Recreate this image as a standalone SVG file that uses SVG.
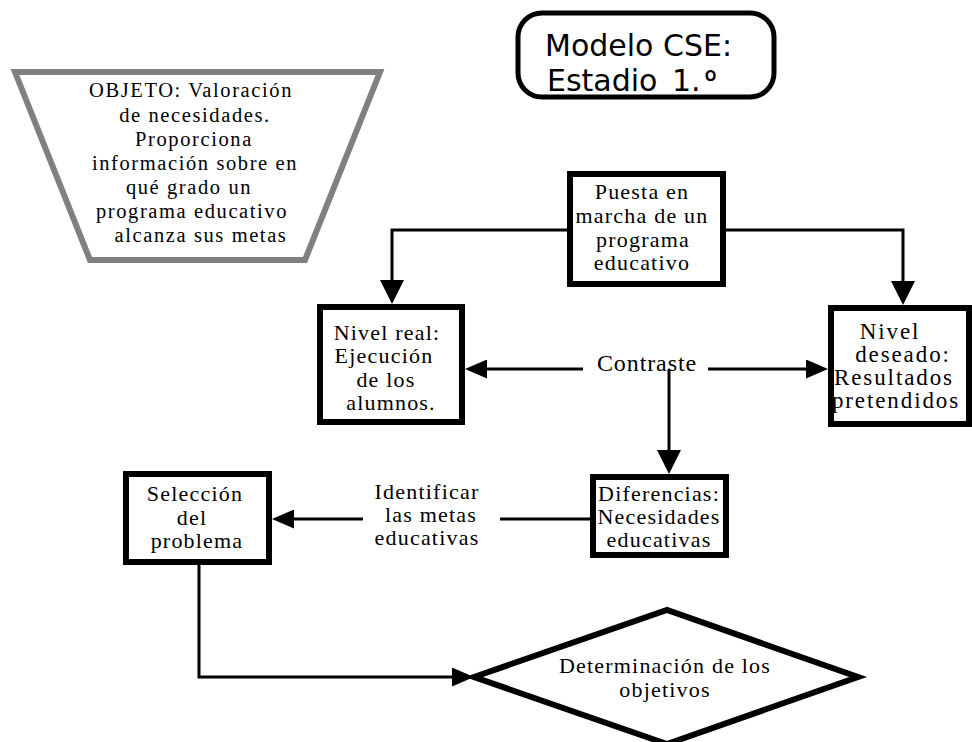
<svg xmlns="http://www.w3.org/2000/svg" width="972" height="742" viewBox="0 0 972 742">
  <style>
    .box { fill: #ffffff; stroke: #000000; stroke-width: 6; }
    .wire { fill: none; stroke: #000000; stroke-width: 3; }
    .t { font-family: "Liberation Serif", "Times New Roman", serif; font-size: 22px; letter-spacing: 1.2px; fill: #000000; text-anchor: middle; }
    .obj { font-size: 20.5px; letter-spacing: 1.6px; }
    .big { font-size: 24px; letter-spacing: 0.9px; }
    .wide { font-size: 23px; letter-spacing: 1.9px; }
    .title { font-family: "DejaVu Sans", Verdana, sans-serif; font-size: 30px; fill: #000000; }
  </style>
  <defs>
    <!-- filled arrowheads; tip sits 6px past the end of the line -->
    <marker id="arrow-v" markerUnits="userSpaceOnUse" viewBox="0 0 24 24" markerWidth="24" markerHeight="24" refX="18" refY="12" orient="auto">
      <path d="M0,0 L24,12 L0,24 Z" fill="#000000"/>
    </marker>
    <marker id="arrow-h" markerUnits="userSpaceOnUse" viewBox="0 0 22 19" markerWidth="22" markerHeight="19" refX="16" refY="9.5" orient="auto">
      <path d="M0,0 L22,9.5 L0,19 Z" fill="#000000"/>
    </marker>
  </defs>

  <rect width="972" height="742" fill="#ffffff"/>

  <!-- connectors -->
  <g id="connectors">
    <path class="wire" d="M567,230 H392 V298" marker-end="url(#arrow-v)"/>
    <path class="wire" d="M726,230 H903 V299" marker-end="url(#arrow-v)"/>
    <path class="wire" d="M583,369 H471" marker-end="url(#arrow-h)"/>
    <path class="wire" d="M708,369 H822" marker-end="url(#arrow-h)"/>
    <path class="wire" d="M669,369 V468" marker-end="url(#arrow-v)"/>
    <path class="wire" d="M590,519 H500"/>
    <path class="wire" d="M363,519 H278" marker-end="url(#arrow-h)"/>
    <path class="wire" d="M199,565 V677 H468" marker-end="url(#arrow-h)"/>
  </g>

  <!-- title -->
  <g id="title">
    <rect x="518" y="13" width="256" height="84" rx="24" ry="24" fill="#ffffff" stroke="#000000" stroke-width="5"/>
    <text class="title" x="545" y="56">Modelo CSE:</text>
    <text class="title" x="547" y="91">Estadio <tspan dx="5">1.</tspan><tspan dx="3" font-family="Roboto, 'DejaVu Sans', sans-serif">º</tspan></text>
  </g>

  <!-- purpose note -->
  <g id="objeto">
    <polygon points="15,72 380,72 305,260 90,260" fill="#ffffff" stroke="#808080" stroke-width="6"/>
    <text class="t obj" x="191" y="97">OBJETO: Valoración</text>
    <text class="t obj" x="195" y="121.5">de necesidades.</text>
    <text class="t obj" x="194" y="145.5">Proporciona</text>
    <text class="t obj" x="195" y="170">información sobre en</text>
    <text class="t obj" x="189" y="194">qué grado un</text>
    <text class="t obj" x="192" y="218">programa educativo</text>
    <text class="t obj" x="201" y="242">alcanza sus metas</text>
  </g>

  <g id="puesta">
    <rect class="box" x="570" y="174" width="153" height="110"/>
    <text class="t" x="642" y="199">Puesta en</text>
    <text class="t" x="642" y="223">marcha de un</text>
    <text class="t" x="643" y="247">programa</text>
    <text class="t" x="642" y="270">educativo</text>
  </g>

  <g id="nivel-real">
    <rect class="box" x="320" y="307" width="142" height="115"/>
    <text class="t" x="387" y="340">Nivel real:</text>
    <text class="t" x="384" y="363">Ejecución</text>
    <text class="t" x="386" y="387">de los</text>
    <text class="t" x="391" y="410">alumnos.</text>
  </g>

  <g id="nivel-deseado">
    <rect class="box" x="831" y="308" width="138" height="116"/>
    <text class="t wide" x="890" y="339">Nivel</text>
    <text class="t wide" x="903" y="362">deseado:</text>
    <text class="t wide" x="894" y="385">Resultados</text>
    <text class="t wide" x="896" y="408">pretendidos</text>
  </g>

  <g id="contraste">
    <text class="t big" x="647" y="371">Contraste</text>
  </g>

  <g id="diferencias">
    <rect class="box" x="593" y="477" width="133" height="78"/>
    <text class="t" x="659" y="501">Diferencias:</text>
    <text class="t" x="659" y="524">Necesidades</text>
    <text class="t" x="659" y="547">educativas</text>
  </g>

  <g id="identificar">
    <text class="t" x="427" y="499">Identificar</text>
    <text class="t" x="431" y="522">las metas</text>
    <text class="t" x="427" y="545">educativas</text>
  </g>

  <g id="seleccion">
    <rect class="box" x="126" y="474" width="143" height="88"/>
    <text class="t" x="195" y="501">Selección</text>
    <text class="t" x="192" y="525">del</text>
    <text class="t" x="197" y="548">problema</text>
  </g>

  <g id="objetivos">
    <polygon points="474,677 667,610 858,677 667,744" fill="#ffffff" stroke="#000000" stroke-width="6"/>
    <text class="t" x="665" y="673">Determinación de los</text>
    <text class="t" x="665" y="697">objetivos</text>
  </g>
</svg>
